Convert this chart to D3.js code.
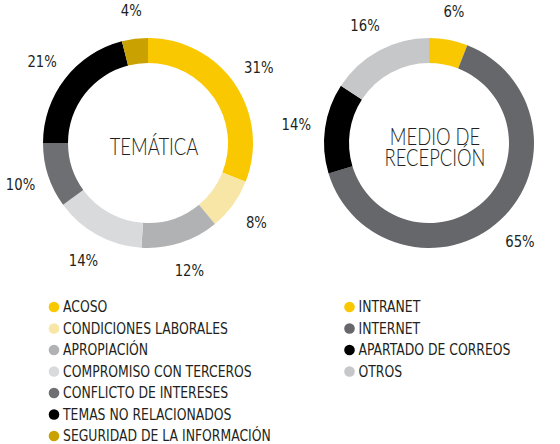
<!DOCTYPE html>
<html>
<head>
<meta charset="utf-8">
<script src="https://cdn.jsdelivr.net/npm/d3@7"></script>
<style>
  html, body { margin: 0; padding: 0; background: #fff; }
  svg text { font-family: "DejaVu Sans Condensed", "DejaVu Sans", sans-serif; fill: #231f20; }
  svg text.title { font-family: Lato, "DejaVu Sans", sans-serif; font-weight: 300; }
</style>
</head>
<body>
<svg id="chart" width="560" height="444"></svg>
<script>
// Donut 1: complaint topics
const topicLabels = ["ACOSO", "CONDICIONES LABORALES", "APROPIACIÓN", "COMPROMISO CON TERCEROS",
                     "CONFLICTO DE INTERESES", "TEMAS NO RELACIONADOS", "SEGURIDAD DE LA INFORMACIÓN"];
const topicValues = [31, 8, 12, 14, 10, 21, 4];
const topicColors = ["#f9c800", "#f7e6a6", "#b1b2b4", "#d9dadc", "#6e6f72", "#000000", "#c9a100"];

// Donut 2: reception channel
const channelLabels = ["INTRANET", "INTERNET", "APARTADO DE CORREOS", "OTROS"];
const channelValues = [6, 65, 14, 16];
const channelColors = ["#f9c800", "#66676b", "#000000", "#c6c7c9"];

const svg = d3.select("#chart");

const outerR = 105, innerR = 80, labelR = 134;
const pie = d3.pie().sort(null).value(d => d);
const arc = d3.arc().innerRadius(innerR).outerRadius(outerR);
const labelArc = d3.arc().innerRadius(labelR).outerRadius(labelR);

function donut(cx, cy, values, colors, titleLines) {
  const g = svg.append("g").attr("transform", `translate(${cx},${cy})`);
  const arcs = pie(values);
  g.selectAll("path.slice").data(arcs).join("path")
    .attr("class", "slice")
    .attr("d", arc)
    .attr("fill", (d, i) => colors[i]);

  g.selectAll("text.pct").data(arcs).join("text")
    .attr("class", "pct")
    .attr("transform", d => `translate(${labelArc.centroid(d)}) scale(0.92,1)`)
    .attr("text-anchor", "middle")
    .attr("dy", "0.36em")
    .style("font-size", "16px")
    .text(d => d.data + "%");

  // centre title, one text element with a tspan per line
  const lineH = 21;
  const y0 = 12 - (titleLines.length - 1) / 2 * lineH;
  const title = g.append("text")
    .attr("class", "title")
    .attr("transform", `translate(6,${y0}) scale(0.8,1)`)
    .attr("text-anchor", "middle")
    .style("font-size", "23px");
  titleLines.forEach((line, i) => {
    title.append("tspan")
      .attr("x", 0)
      .attr("y", i * lineH)
      .text(line);
  });
}

function legend(x, y, labels, colors) {
  const step = 21.5;
  const g = svg.append("g").attr("transform", `translate(${x},${y})`);
  const rows = g.selectAll("g.row").data(labels).join("g")
    .attr("class", "row")
    .attr("transform", (d, i) => `translate(0,${i * step})`);
  rows.append("circle").attr("r", 5.3).attr("fill", (d, i) => colors[i]);
  rows.append("text")
    .attr("transform", "translate(9,0) scale(0.92,1)")
    .attr("dy", "0.36em")
    .style("font-size", "15px")
    .text(d => d);
}

donut(148, 143, topicValues, topicColors, ["TEMÁTICA"]);
donut(429, 143, channelValues, channelColors, ["MEDIO DE", "RECEPCIÓN"]);

legend(54, 307, topicLabels, topicColors);
legend(349.5, 307, channelLabels, channelColors);
</script>
</body>
</html>
